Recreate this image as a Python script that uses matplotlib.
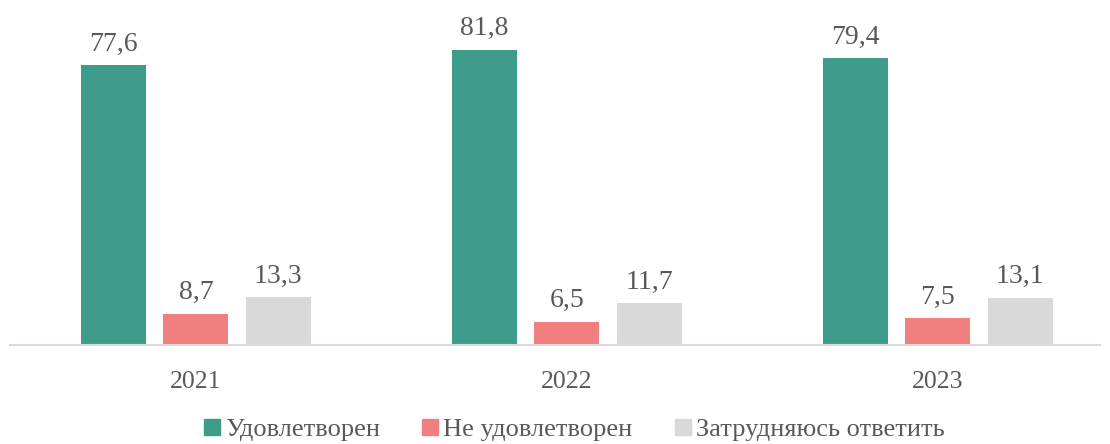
import matplotlib
matplotlib.use("Agg")
import matplotlib.pyplot as plt
import numpy as np
from matplotlib.lines import Line2D

years = ["2021", "2022", "2023"]
series_names = ["Удовлетворен", "Не удовлетворен", "Затрудняюсь ответить"]
satisfied = [77.6, 81.8, 79.4]
not_satisfied = [8.7, 6.5, 7.5]
hard_to_say = [13.3, 11.7, 13.1]
colors = ["#3D9C89", "#F08080", "#D9D9D9"]

plt.rcParams['font.family'] = ['Liberation Serif', 'DejaVu Serif']
txt_color = "#595959"

fig = plt.figure(figsize=(11.1, 4.44), dpi=100)
ax = fig.add_axes([10/1110, 99/444, 1090/1110, 335/444])

x = np.arange(len(years))
width = 0.175
offset = 0.222
for i, (vals, col, name) in enumerate(zip([satisfied, not_satisfied, hard_to_say], colors, series_names)):
    bars = ax.bar(x + (i - 1) * offset, vals, width=width, color=col, label=name)
    for b, v in zip(bars, vals):
        ax.annotate(f"{v:.1f}".replace(".", ","), (b.get_x() + b.get_width() / 2, v),
                    xytext=(0, 6), textcoords="offset points", ha="center", va="bottom",
                    fontsize=20, color=txt_color)

ax.set_xlim(-0.501, 2.437)
ax.set_ylim(0, 92.8)
ax.set_xticks(x)
ax.set_xticklabels(years, fontsize=18.5, color=txt_color)
ax.tick_params(axis='x', length=0, pad=19)
ax.set_yticks([])
for s in ["top", "right", "left"]:
    ax.spines[s].set_visible(False)
ax.spines["bottom"].set_color("#D9D9D9")
ax.spines["bottom"].set_linewidth(1.5)

leg_handles = [Line2D([], [], marker='s', linestyle='none', markersize=11, color=c) for c in colors]
leg = fig.legend(leg_handles, series_names, loc='center', bbox_to_anchor=(0.516, 15/444), ncol=3,
                 frameon=False, fontsize=19, handletextpad=0.1, columnspacing=1.5, handlelength=0.8)
for t in leg.get_texts():
    t.set_color(txt_color)

fig.savefig("out.png", dpi=100)
